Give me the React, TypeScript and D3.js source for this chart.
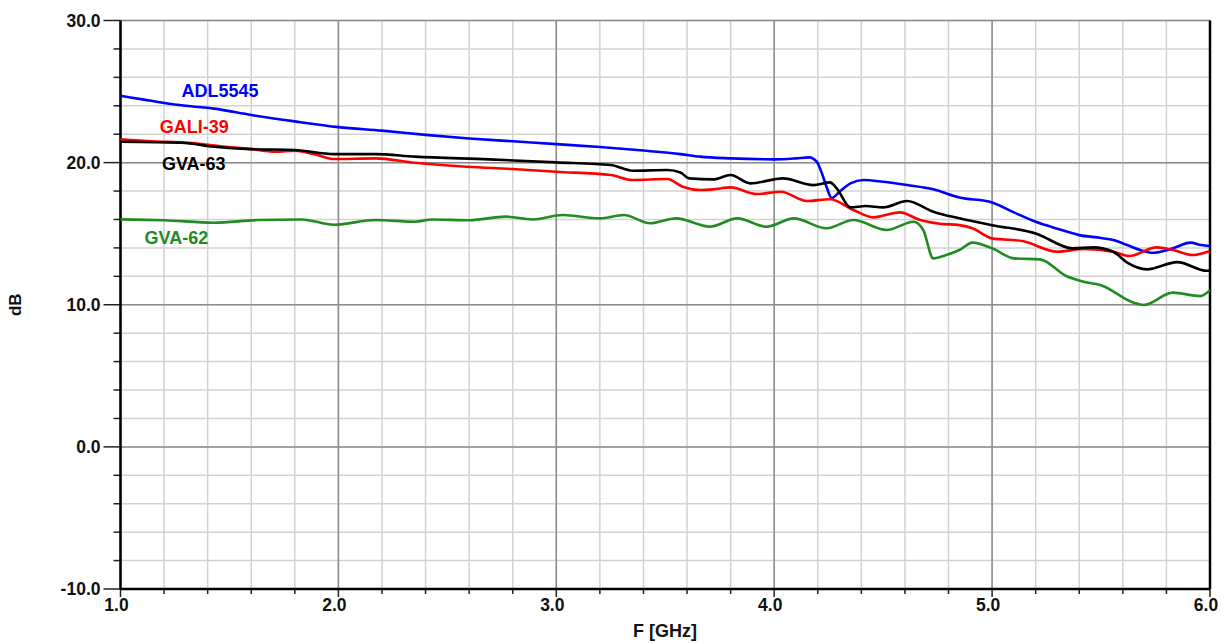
import { useMemo } from "react";
import * as d3 from "d3";

const WIDTH = 1228;
const HEIGHT = 643;
const MARGINS = { LEFT: 120.5, RIGHT: 18, TOP: 20.5, BOTTOM: 54 };

// x in GHz, y in dB
const ADL5545: [number, number][] = [
  [1.0, 24.7], [1.1, 24.45], [1.2, 24.2], [1.3, 24.0], [1.43, 23.8], [1.6, 23.35],
  [1.8, 22.9], [2.0, 22.5], [2.2, 22.25], [2.4, 21.95], [2.6, 21.7], [2.8, 21.5],
  [3.0, 21.3], [3.2, 21.1], [3.4, 20.85], [3.57, 20.6], [3.66, 20.42], [3.8, 20.3],
  [4.0, 20.23], [4.1, 20.3], [4.16, 20.37], [4.195, 20.07], [4.22, 19.2], [4.24, 18.3],
  [4.264, 17.5], [4.3, 17.95], [4.35, 18.54], [4.41, 18.78], [4.5, 18.65], [4.61, 18.42],
  [4.73, 18.12], [4.85, 17.55], [5.0, 17.2], [5.1, 16.5], [5.2, 15.84], [5.3, 15.35],
  [5.4, 14.9], [5.5, 14.7], [5.556, 14.55], [5.62, 14.2], [5.68, 13.85], [5.74, 13.66],
  [5.83, 13.97], [5.91, 14.37], [5.96, 14.2], [6.0, 14.13],
];

const GALI39: [number, number][] = [
  [1.0, 21.64], [1.15, 21.5], [1.31, 21.4], [1.48, 21.12], [1.6, 20.95], [1.71, 20.77],
  [1.8, 20.84], [1.9, 20.55], [1.98, 20.25], [2.17, 20.3], [2.35, 19.99], [2.59, 19.71],
  [2.8, 19.55], [3.0, 19.36], [3.25, 19.13], [3.35, 18.78], [3.51, 18.85], [3.58, 18.3],
  [3.66, 18.07], [3.72, 18.12], [3.8, 18.26], [3.92, 17.79], [4.03, 17.95], [4.15, 17.3],
  [4.256, 17.42], [4.363, 16.67], [4.455, 16.15], [4.577, 16.5], [4.67, 15.96], [4.76, 15.7],
  [4.85, 15.6], [4.91, 15.38], [5.0, 14.67], [5.14, 14.48], [5.3, 13.73], [5.42, 13.92],
  [5.556, 13.73], [5.63, 13.43], [5.755, 14.04], [5.83, 13.85], [5.92, 13.5], [6.0, 13.78],
];

const GVA63: [number, number][] = [
  [1.0, 21.47], [1.28, 21.4], [1.43, 21.12], [1.6, 20.95], [1.8, 20.89], [1.98, 20.6],
  [2.17, 20.6], [2.35, 20.42], [2.69, 20.23], [3.0, 20.02], [3.25, 19.83], [3.35, 19.43],
  [3.51, 19.48], [3.57, 19.3], [3.61, 18.89], [3.72, 18.82], [3.8, 19.13], [3.89, 18.54],
  [4.04, 18.89], [4.18, 18.42], [4.256, 18.61], [4.287, 18.19], [4.35, 16.85], [4.42, 16.95],
  [4.5, 16.85], [4.61, 17.3], [4.73, 16.55], [4.85, 16.08], [5.0, 15.6], [5.2, 15.02],
  [5.37, 13.97], [5.465, 14.04], [5.556, 13.73], [5.62, 12.96], [5.71, 12.49], [5.85, 13.0],
  [5.985, 12.39], [6.0, 12.4],
];

const GVA62: [number, number][] = [
  [1.0, 16.01], [1.2, 15.95], [1.43, 15.77], [1.63, 15.96], [1.83, 16.0], [1.98, 15.63],
  [2.17, 15.96], [2.35, 15.84], [2.43, 16.0], [2.6, 15.95], [2.77, 16.2], [2.89, 16.0],
  [3.03, 16.31], [3.2, 16.08], [3.31, 16.31], [3.43, 15.73], [3.55, 16.08], [3.705, 15.49],
  [3.83, 16.08], [3.965, 15.49], [4.09, 16.08], [4.24, 15.38], [4.363, 15.96], [4.516, 15.26],
  [4.64, 15.84], [4.684, 15.26], [4.73, 13.26], [4.79, 13.5], [4.85, 13.85], [4.91, 14.37],
  [5.0, 13.97], [5.1, 13.26], [5.22, 13.19], [5.34, 12.02], [5.42, 11.62], [5.5, 11.38],
  [5.65, 10.14], [5.695, 9.98], [5.83, 10.85], [5.955, 10.61], [6.0, 11.03],
];

const X_TICKS = [1, 2, 3, 4, 5, 6];
const Y_TICKS = [-10, 0, 10, 20, 30];

const SERIES = [
  { name: "ADL5545", data: ADL5545, color: "#0000ff", label: [1.28, 24.65] },
  { name: "GALI-39", data: GALI39, color: "#ff0000", label: [1.18, 22.08] },
  { name: "GVA-63", data: GVA63, color: "#000000", label: [1.19, 19.48] },
  { name: "GVA-62", data: GVA62, color: "#228b22", label: [1.11, 14.27] },
];

const FONT = "'Liberation Sans', Arial, sans-serif";

export default function App() {
  const x = useMemo(
    () => d3.scaleLinear().domain([1, 6]).range([MARGINS.LEFT, WIDTH - MARGINS.RIGHT]),
    []
  );
  const y = useMemo(
    () => d3.scaleLinear().domain([-10, 30]).range([HEIGHT - MARGINS.BOTTOM, MARGINS.TOP]),
    []
  );

  const line = d3
    .line<[number, number]>()
    .x((d) => x(d[0]))
    .y((d) => y(d[1]))
    .curve(d3.curveMonotoneX);

  const xMinor = d3.range(1, 6.001, 0.2);
  const yMinor = d3.range(-10, 30.001, 2);
  const [x0, x1] = x.range();
  const [y0, y1] = y.range();

  return (
    <svg
      width={WIDTH}
      height={HEIGHT}
      style={{ position: "absolute", left: 0, top: 0, background: "#fff" }}
      fontFamily={FONT}
    >
      {/* minor grid */}
      {xMinor.map((v) => (
        <line key={"xm" + v} x1={x(v)} x2={x(v)} y1={y0} y2={y1} stroke="#d2d2d2" strokeWidth={1.5} />
      ))}
      {yMinor.map((v) => (
        <line key={"ym" + v} x1={x0} x2={x1} y1={y(v)} y2={y(v)} stroke="#d2d2d2" strokeWidth={1.5} />
      ))}
      {/* major grid */}
      {X_TICKS.map((v) => (
        <line key={"xM" + v} x1={x(v)} x2={x(v)} y1={y0} y2={y1} stroke="#8c8c8c" strokeWidth={1.5} />
      ))}
      {Y_TICKS.map((v) => (
        <line key={"yM" + v} x1={x0} x2={x1} y1={y(v)} y2={y(v)} stroke="#8c8c8c" strokeWidth={1.5} />
      ))}

      {/* ticks */}
      {yMinor.map((v) => (
        <line key={"yt" + v} x1={x0 - (v % 10 === 0 ? 17 : 7)} x2={x0} y1={y(v)} y2={y(v)} stroke="#222" strokeWidth={1.5} />
      ))}
      {xMinor.map((v, i) => (
        <line key={"xt" + v} x1={x(v)} x2={x(v)} y1={y0} y2={y0 + (i % 5 === 0 ? 8 : 5)} stroke="#222" strokeWidth={1.5} />
      ))}

      {/* axes frame */}
      <line x1={x0} x2={x0} y1={y1} y2={y0} stroke="#000" strokeWidth={2.5} />
      <line x1={x1} x2={x1} y1={y1} y2={y0} stroke="#000" strokeWidth={2.5} />
      <line x1={x0} x2={x1} y1={y0} y2={y0} stroke="#000" strokeWidth={2.5} />

      {/* series */}
      {SERIES.map((s) => (
        <path key={s.name} d={line(s.data) ?? ""} fill="none" stroke={s.color} strokeWidth={2.6} strokeLinejoin="round" />
      ))}
      {SERIES.map((s) => (
        <text key={"l" + s.name} x={x(s.label[0])} y={y(s.label[1])} fill={s.color} fontSize={18} fontWeight="bold">
          {s.name}
        </text>
      ))}

      {/* tick labels */}
      {Y_TICKS.map((v) => (
        <text key={"yl" + v} x={x0 - 20} y={y(v) + 6} textAnchor="end" fontSize={17.5} fontWeight="bold" fill="#111">
          {v.toFixed(1)}
        </text>
      ))}
      {X_TICKS.map((v) => (
        <text key={"xl" + v} x={x(v) - 4} y={y0 + 22} textAnchor="middle" fontSize={17.5} fontWeight="bold" fill="#111">
          {v.toFixed(1)}
        </text>
      ))}

      {/* axis titles */}
      <text x={665} y={637} textAnchor="middle" fontSize={18} fontWeight="bold" fill="#111">
        F [GHz]
      </text>
      <text
        transform={`translate(21, ${(y0 + y1) / 2}) rotate(-90)`}
        textAnchor="middle"
        fontSize={17}
        fontWeight="bold"
        fill="#111"
      >
        dB
      </text>
    </svg>
  );
}
